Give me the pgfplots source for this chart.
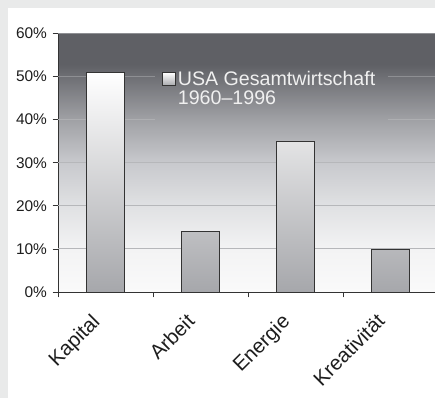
\documentclass[border=0pt]{standalone}
\usepackage{fontspec}
\setmainfont{Liberation Sans}
\usepackage{pgfplots}
\pgfplotsset{compat=1.18}
\definecolor{outerbg}{HTML}{E9EAEA}
\definecolor{cB}{HTML}{FAFAFA}
\definecolor{cA}{HTML}{F3F3F4}
\definecolor{cC}{HTML}{E0E1E3}
\definecolor{cD}{HTML}{C8C9CD}
\definecolor{cE}{HTML}{A0A1A5}
\definecolor{cF}{HTML}{6E6F74}
\definecolor{cT}{HTML}{5F6065}
\pgfdeclareverticalshading{bgshade}{100bp}{color(0bp)=(cB); color(25bp)=(cB); color(33.33bp)=(cA); color(41.67bp)=(cC); color(50bp)=(cD); color(58.33bp)=(cE); color(66.67bp)=(cF); color(69bp)=(cT); color(75bp)=(cT); color(100bp)=(cT)}
\definecolor{gridlo}{HTML}{B6B7BA}
\definecolor{gridmid}{HTML}{AEAFB2}
\definecolor{gridhi}{HTML}{8E8F93}
\definecolor{barbot}{HTML}{A6A7AB}
\definecolor{barmid}{HTML}{E4E4E6}
\definecolor{axc}{HTML}{333333}
\definecolor{txt}{HTML}{1E1E1E}
\begin{document}
\begin{tikzpicture}
\useasboundingbox (0,0) rectangle (435bp,398bp);
\fill[outerbg] (0,0) rectangle (435bp,398bp);
\fill[white] (8bp,0) rectangle (435bp,390bp);
\begin{axis}[
 at={(58bp,106bp)}, anchor=south west, scale only axis,
 width=380bp, height=258.5bp,
 xmin=-0.5, xmax=3.5, ymin=0, ymax=60,
 axis x line*=bottom, axis y line*=left,
 axis line style={axc, line width=0.8bp},
 xtick={-0.5,0.5,1.5,2.5,3.5},
 x tick label as interval,
 xticklabels={Kapital,Arbeit,Energie,Kreativität},
 ytick={0,10,...,60},
 yticklabel={\pgfmathprintnumber[assume math mode=true]{\tick}\%},
 tick align=outside, major tick length=5.5bp,
 tick style={axc, line width=0.8bp},
 y tick label style={font=\fontsize{15.5}{17}\selectfont, text=txt, xshift=-2bp},
 x tick label style={font=\fontsize{20.5}{23}\selectfont, text=txt, xshift=-15bp, yshift=-10bp, rotate=45, anchor=north east},
 axis background/.style={shade, shading=bgshade},
 legend style={at={(0.2655,0.87)}, anchor=north west, draw=none, fill=none,
   font=\fontsize{19.7}{23}\selectfont, text=white!94!black},
 legend cell align=left,
]
\addplot[gridlo, line width=0.9bp, forget plot] coordinates {(-0.5,10) (3.5,10)};
\addplot[gridlo, line width=0.9bp, forget plot] coordinates {(-0.5,20) (3.5,20)};
\addplot[gridlo, line width=0.9bp, forget plot] coordinates {(-0.5,30) (3.5,30)};
\addplot[gridmid, line width=0.9bp, forget plot] coordinates {(-0.5,40) (0.52,40)};
\addplot[gridmid, line width=0.9bp, forget plot] coordinates {(2.97,40) (3.5,40)};
\addplot[gridhi, line width=0.9bp, forget plot] coordinates {(-0.5,50) (0.52,50)};
\addplot[gridhi, line width=0.9bp, forget plot] coordinates {(2.97,50) (3.5,50)};
\addplot[gridhi, line width=0.9bp, forget plot] coordinates {(-0.5,60) (3.5,60)};
\addplot[ybar, bar width=37.6bp, draw=axc, line width=0.8bp,
  top color=white, middle color=barmid, bottom color=barbot,
  legend image code/.code={\draw[draw=axc, line width=0.8bp, top color=white, bottom color=barbot] (0bp,-6.5bp) rectangle (13bp,6.5bp);}]
  coordinates {(0,51) (1,14) (2,35) (3,10)};
\addlegendentry{USA Gesamtwirtschaft}
\addlegendimage{empty legend}
\addlegendentry{1960--1996}
\end{axis}
\end{tikzpicture}
\end{document}
